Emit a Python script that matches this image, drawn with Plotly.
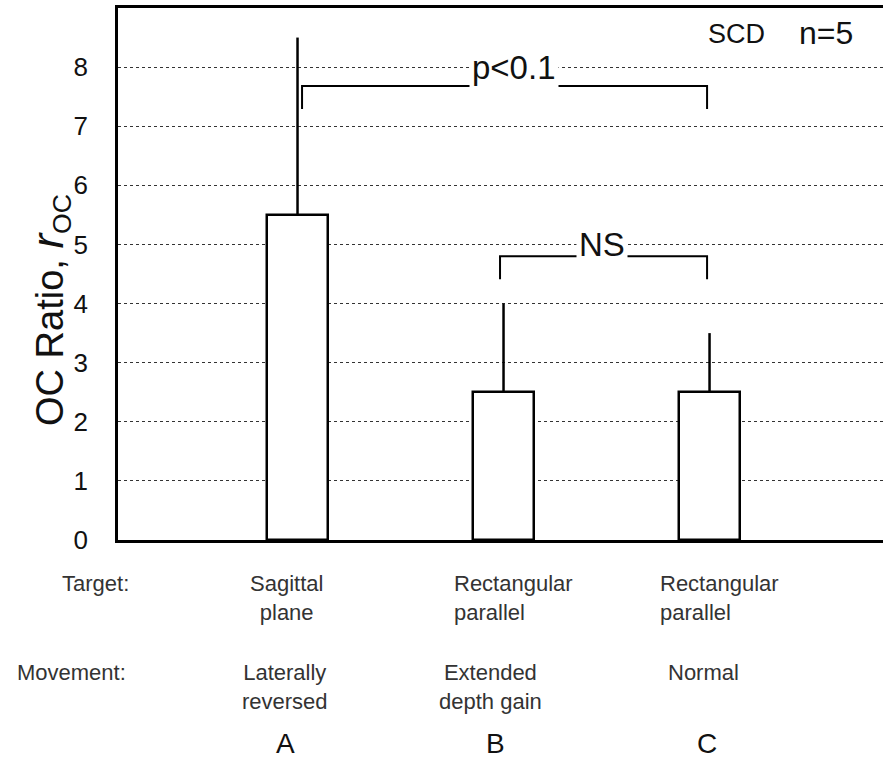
import plotly.graph_objects as go

# Bar data: mean OC ratio per condition with one-sided (upper) SD
conditions = ["A", "B", "C"]
means = [5.5, 2.5, 2.5]
sd_upper = [3.0, 1.5, 1.0]

targets = ["Sagittal<br>plane", "Rectangular<br>parallel", "Rectangular<br>parallel"]
movements = ["Laterally<br>reversed", "Extended<br>depth gain", "Normal"]

# Significance brackets: (left condition, right condition, bar height, leg drop, label)
brackets = [
    (0, 2, 7.68, 0.39, "p<0.1"),
    (1, 2, 4.80, 0.39, "NS"),
]
bracket_label_pos = [(1.05, 8.0), (1.48, 5.0)]

y_ticks = [0, 1, 2, 3, 4, 5, 6, 7, 8]

FONT = "Liberation Sans, Arial, Helvetica, sans-serif"

W, H = 883, 762
ML, MR, MT, MB = 118, 0, 8, 222
PW, PH = W - ML - MR, H - MT - MB
X_RANGE = [-0.8714, 2.842]
Y_RANGE = [0, 9.0]

x_pos = list(range(len(conditions)))


def px_paper_x(p):
    """pixel x -> paper x"""
    return (p - ML) / PW


def px_py(p):
    """pixel y -> paper y"""
    return (H - MB - p) / PH


fig = go.Figure()

fig.add_trace(go.Bar(
    x=x_pos, y=means, width=0.296,
    marker=dict(color="white", line=dict(color="black", width=2.5)),
    error_y=dict(type="data", symmetric=False, array=sd_upper,
                 arrayminus=[0] * len(means), width=0, thickness=2.5,
                 color="black"),
    showlegend=False, hoverinfo="skip",
))

# bracket lines
bx, by = [], []
for left, right, h, drop, _ in brackets:
    xl = x_pos[left] + (0.022 if left == 0 else -0.017)
    xr = x_pos[right] - 0.012
    bx += [xl, xl, xr, xr, None]
    by += [h - drop, h, h, h - drop, None]
fig.add_trace(go.Scatter(x=bx, y=by, mode="lines",
                         line=dict(color="black", width=2),
                         showlegend=False, hoverinfo="skip"))

annotations = []
for (_, _, _, _, label), (lx, ly) in zip(brackets, bracket_label_pos):
    annotations.append(dict(x=lx, y=ly, xref="x", yref="y", text=label,
                            showarrow=False, font=dict(size=33, color="#111", family=FONT),
                            bgcolor="white", borderpad=2, yanchor="middle"))

LABEL_FONT = dict(size=22, color="#333", family=FONT)

# per-condition labels under the axis
for i, (t, m, c) in enumerate(zip(targets, movements, conditions)):
    if i == 0:
        annotations.append(dict(x=px_paper_x(286), y=px_py(569), xref="paper", yref="paper",
                                text=t, showarrow=False, xanchor="center", yanchor="top",
                                align="center", font=LABEL_FONT))
    else:
        left_px = 452 if i == 1 else 658
        annotations.append(dict(x=px_paper_x(left_px), y=px_py(569), xref="paper", yref="paper",
                                text=t, showarrow=False, xanchor="left", yanchor="top",
                                align="left", font=LABEL_FONT))
    mx = [285, 490, 703][i]
    annotations.append(dict(x=px_paper_x(mx), y=px_py(658), xref="paper", yref="paper",
                            text=m, showarrow=False, xanchor="center", yanchor="top",
                            align="center", font=LABEL_FONT))
    cx = [285, 495, 707][i]
    annotations.append(dict(x=px_paper_x(cx), y=px_py(726), xref="paper", yref="paper",
                            text=c, showarrow=False, xanchor="center", yanchor="top",
                            font=dict(size=28, color="#111", family=FONT)))

annotations += [
    dict(x=px_paper_x(60), y=px_py(569), xref="paper", yref="paper", text="Target:",
         showarrow=False, xanchor="left", yanchor="top", font=LABEL_FONT),
    dict(x=px_paper_x(15), y=px_py(658), xref="paper", yref="paper", text="Movement:",
         showarrow=False, xanchor="left", yanchor="top", font=LABEL_FONT),
    dict(x=px_paper_x(736), y=px_py(34), xref="paper", yref="paper", text="SCD",
         showarrow=False, xanchor="center", yanchor="middle",
         font=dict(size=27, color="#111", family=FONT)),
    dict(x=px_paper_x(826), y=px_py(33), xref="paper", yref="paper", text="n=5",
         showarrow=False, xanchor="center", yanchor="middle",
         font=dict(size=32, color="#111", family=FONT)),
    dict(x=px_paper_x(50), y=px_py(310), xref="paper", yref="paper",
         text='OC Ratio, <i><span style="font-size:44px">r</span></i><sub>OC</sub>',
         showarrow=False, textangle=-90, xanchor="center", yanchor="middle",
         font=dict(size=38, color="#111", family=FONT)),
]

fig.update_layout(
    width=W, height=H,
    margin=dict(l=ML, r=MR, t=MT, b=MB, pad=0),
    paper_bgcolor="white", plot_bgcolor="white",
    font=dict(family=FONT, color="#111"),
    annotations=annotations,
    bargap=0,
)
fig.update_xaxes(range=X_RANGE, showticklabels=False, ticks="", showgrid=False,
                 zeroline=False, showline=True, linecolor="black", linewidth=2.5,
                 mirror=True)
fig.update_yaxes(range=Y_RANGE, tickvals=y_ticks, ticks="", ticklabelstandoff=22,
                 tickfont=dict(size=26, color="#111", family=FONT),
                 showgrid=True, gridcolor="#333", gridwidth=1, griddash="dot",
                 zeroline=False, showline=True, linecolor="black", linewidth=2.5)

fig.write_html("out.html")
